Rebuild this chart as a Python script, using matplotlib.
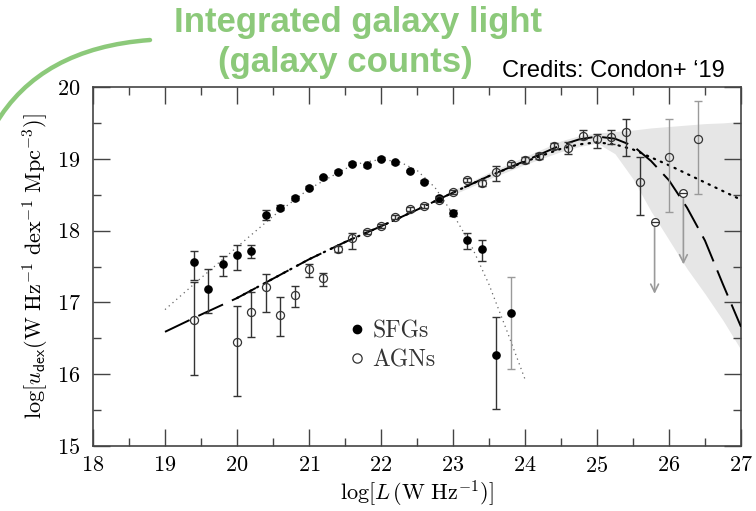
import numpy as np
import matplotlib
matplotlib.use("Agg")
import matplotlib.pyplot as plt
from matplotlib.path import Path
from matplotlib.patches import PathPatch

plt.rcParams['font.family'] = 'cmr10'
plt.rcParams['mathtext.fontset'] = 'cm'
plt.rcParams['axes.formatter.use_mathtext'] = True

# star-forming galaxies: log L, log u_dex, lower/upper errors
sfg_x = [19.4, 19.6, 19.8, 20.0, 20.2, 20.4, 20.6, 20.8, 21.0, 21.2, 21.4, 21.6,
         21.8, 22.0, 22.2, 22.4, 22.6, 22.8, 23.0, 23.2, 23.4, 23.6, 23.8]
sfg_y = [17.56, 17.18, 17.53, 17.66, 17.72, 18.22, 18.32, 18.45, 18.60, 18.74, 18.82, 18.93,
         18.91, 19.00, 18.95, 18.83, 18.68, 18.45, 18.25, 17.87, 17.74, 16.27, 16.85]
sfg_lo = [0.25, 0.33, 0.16, 0.21, 0.10, 0.07, 0.04, 0.03, 0.02, 0.02, 0.02, 0.02,
          0.02, 0.02, 0.02, 0.02, 0.02, 0.03, 0.04, 0.13, 0.16, 0.76, 0.78]
sfg_hi = [0.15, 0.29, 0.12, 0.14, 0.08, 0.07, 0.04, 0.03, 0.02, 0.02, 0.02, 0.02,
          0.02, 0.02, 0.02, 0.02, 0.02, 0.03, 0.04, 0.09, 0.13, 0.52, 0.51]

# AGNs with two-sided errors
agn_x = [19.4, 20.0, 20.2, 20.4, 20.6, 20.8, 21.0, 21.2, 21.4, 21.6, 21.8, 22.0,
         22.2, 22.4, 22.6, 22.8, 23.0, 23.2, 23.4, 23.6, 23.8, 24.0, 24.2, 24.4,
         24.6, 24.8, 25.0, 25.2, 25.4, 25.6, 26.0, 26.4]
agn_y = [16.75, 16.45, 16.86, 17.21, 16.82, 17.11, 17.47, 17.34, 17.74, 17.89, 17.98, 18.06,
         18.19, 18.30, 18.34, 18.43, 18.54, 18.70, 18.66, 18.81, 18.93, 18.98, 19.04, 19.18,
         19.15, 19.32, 19.27, 19.30, 19.38, 18.67, 19.03, 19.28]
agn_lo = [0.76, 0.76, 0.34, 0.34, 0.29, 0.18, 0.12, 0.11, 0.04, 0.14, 0.03, 0.03,
          0.03, 0.03, 0.03, 0.03, 0.03, 0.03, 0.04, 0.12, 0.03, 0.04, 0.04, 0.04,
          0.09, 0.04, 0.12, 0.09, 0.34, 0.45, 0.77, 0.77]
agn_hi = [0.54, 0.50, 0.28, 0.18, 0.25, 0.12, 0.07, 0.07, 0.04, 0.08, 0.03, 0.03,
          0.03, 0.03, 0.03, 0.03, 0.03, 0.03, 0.04, 0.09, 0.03, 0.04, 0.04, 0.04,
          0.08, 0.08, 0.08, 0.10, 0.17, 0.36, 0.52, 0.52]

# AGN upper limits
lim_x = [25.8, 26.2]
lim_y = [18.12, 18.53]
lim_len = 1.0

# SFG fit (dotted)
sfg_fit_x = [19.0, 19.5, 20.0, 20.5, 21.0, 21.5, 21.75, 22.0, 22.25, 22.5, 22.75,
             23.0, 23.25, 23.5, 23.75, 24.0]
sfg_fit_y = [16.90, 17.34, 17.77, 18.20, 18.58, 18.86, 18.95, 18.99, 18.96, 18.84, 18.60,
             18.23, 17.80, 17.25, 16.60, 15.93]

# AGN fits: long dashed and dotted
agn_fit1_x = [19.0, 19.5, 20.0, 20.5, 21.0, 21.5, 22.0, 22.5, 23.0, 23.5, 24.0, 24.5,
              24.75, 25.0, 25.25, 25.5, 25.75, 26.0, 26.25, 26.5, 26.75, 27.0]
agn_fit1_y = [16.59, 16.83, 17.06, 17.33, 17.60, 17.84, 18.06, 18.29, 18.53, 18.76, 18.97, 19.19,
              19.27, 19.31, 19.28, 19.18, 18.97, 18.70, 18.32, 17.86, 17.25, 16.66]
agn_fit2_x = [20.0, 20.5, 21.0, 21.5, 22.0, 22.5, 23.0, 23.5, 24.0, 24.5, 24.75, 25.0,
              25.25, 25.5, 26.0, 26.5, 27.0]
agn_fit2_y = [17.06, 17.33, 17.60, 17.84, 18.06, 18.29, 18.53, 18.76, 18.96, 19.14, 19.20, 19.23,
              19.20, 19.13, 18.91, 18.67, 18.43]

# uncertainty band of the AGN fit
band_x = [23.0, 23.5, 24.0, 24.5, 24.75, 25.0, 25.25, 25.5, 25.75, 26.0, 26.25, 26.5, 26.75, 27.0]
band_hi = [18.56, 18.81, 19.03, 19.25, 19.32, 19.36, 19.38, 19.40, 19.43, 19.45, 19.47, 19.49, 19.50, 19.52]
band_lo = [18.50, 18.72, 18.92, 19.10, 19.17, 19.22, 19.07, 18.72, 18.27, 17.87, 17.47, 17.12, 16.75, 16.34]

green = '#8cc97a'
dark = '#333333'
grey = '#9a9a9a'

fig = plt.figure(figsize=(7.56, 5.11), dpi=100)
ax = fig.add_axes([93/756, 1 - 446/511, 648/756, 359/511])

ax.fill_between(band_x, band_lo, band_hi, color='#e6e6e6', lw=0, zorder=1)

ax.plot(sfg_fit_x, sfg_fit_y, color='#666666', lw=0.9, ls=(0, (1, 3)), zorder=2)
ax.plot(agn_fit1_x, agn_fit1_y, color='black', lw=1.4, ls=(0, (14, 5)), zorder=3)
ax.plot(agn_fit2_x, agn_fit2_y, color='black', lw=1.6, ls=(0, (0.6, 2.8)),
        dash_capstyle='round', zorder=3)

# error bars: dark for most, grey for the sparse bright end
sfg_c = [grey if x >= 23.8 else dark for x in sfg_x]
agn_c = [grey if x >= 25.9 else dark for x in agn_x]
for x, y, lo, hi, c in zip(sfg_x, sfg_y, sfg_lo, sfg_hi, sfg_c):
    ax.errorbar(x, y, yerr=[[lo], [hi]], fmt='none', ecolor=c, elinewidth=1.0,
                capsize=3, capthick=1.0, zorder=4)
for x, y, lo, hi, c in zip(agn_x, agn_y, agn_lo, agn_hi, agn_c):
    ax.errorbar(x, y, yerr=[[lo], [hi]], fmt='none', ecolor=c, elinewidth=1.0,
                capsize=3, capthick=1.0, zorder=4)

for x, y in zip(lim_x, lim_y):
    ax.annotate('', xy=(x, y - lim_len), xytext=(x, y),
                arrowprops=dict(arrowstyle='->', color=grey, lw=1.2,
                                shrinkA=0, shrinkB=0, mutation_scale=14), zorder=4)
ax.plot(lim_x, lim_y, ls='none', marker='o', ms=5.6, mfc='white', mec=dark, mew=0.9, zorder=5)
ax.plot(lim_x, lim_y, ls='none', marker='_', ms=5.6, mec=dark, mew=0.9, zorder=6)

ax.plot(sfg_x, sfg_y, ls='none', marker='o', ms=5.2, mfc='black', mec='black', zorder=6,
        label='SFGs')
ax.plot(agn_x, agn_y, ls='none', marker='o', ms=5.8, mfc='none', mec=dark, mew=0.9, zorder=6,
        label='AGNs')

leg = ax.legend(loc='upper left', bbox_to_anchor=(0.395, 0.35), frameon=False,
                handlelength=0.7, handletextpad=0.3, labelspacing=0.3, fontsize=17,
                borderaxespad=0, borderpad=0, markerscale=1.15)
for t in leg.get_texts():
    t.set_color('#333333')

ax.set_xlim(18, 27)
ax.set_ylim(15, 20)
ax.set_xticks(np.arange(18, 28, 1))
ax.set_xticks(np.arange(18.5, 27, 1), minor=True)
ax.set_yticks(np.arange(15, 21, 1))
ax.set_yticks(np.arange(15.5, 20, 1), minor=True)
ax.tick_params(which='both', direction='in', top=True, right=True, color='#444444',
               labelsize=16, width=1.0)
ax.tick_params(which='major', length=12)
ax.tick_params(which='minor', length=6)
ax.tick_params(axis='x', pad=7)
ax.tick_params(axis='y', pad=9)
for s in ax.spines.values():
    s.set_color('#444444')
    s.set_linewidth(1.2)

ax.set_xlabel(r'$\log[L\,(\mathrm{W\ Hz^{-1}})]$', fontsize=16, labelpad=2)
ax.set_ylabel(r'$\log[u_{\mathsf{dex}}(\mathrm{W\ Hz^{-1}\ dex^{-1}\ Mpc^{-3}})]$',
              fontsize=16, labelpad=4)

# heading and curved accent line
fig.text(358/756, 1 - 32/511, 'Integrated galaxy light', color=green, fontsize=25,
         fontweight='bold', family='Liberation Sans', ha='center', va='baseline')
fig.text(345/756, 1 - 72/511, '(galaxy counts)', color=green, fontsize=25,
         fontweight='bold', family='Liberation Sans', ha='center', va='baseline')
fig.text(502/756, 1 - 77/511, 'Credits: Condon+ \u201819', color='black', fontsize=17,
         family='Liberation Sans', ha='left', va='baseline')

W, H = 756, 511
arc = Path([(150 / W, 1 - 40 / H), (40 / W, 1 - 48 / H), (-5 / W, 1 - 125 / H)],
           [Path.MOVETO, Path.CURVE3, Path.CURVE3])
fig.patches.append(PathPatch(arc, transform=fig.transFigure, fill=False,
                             edgecolor=green, lw=3.2, capstyle='round'))

fig.savefig('out.png', dpi=100)
